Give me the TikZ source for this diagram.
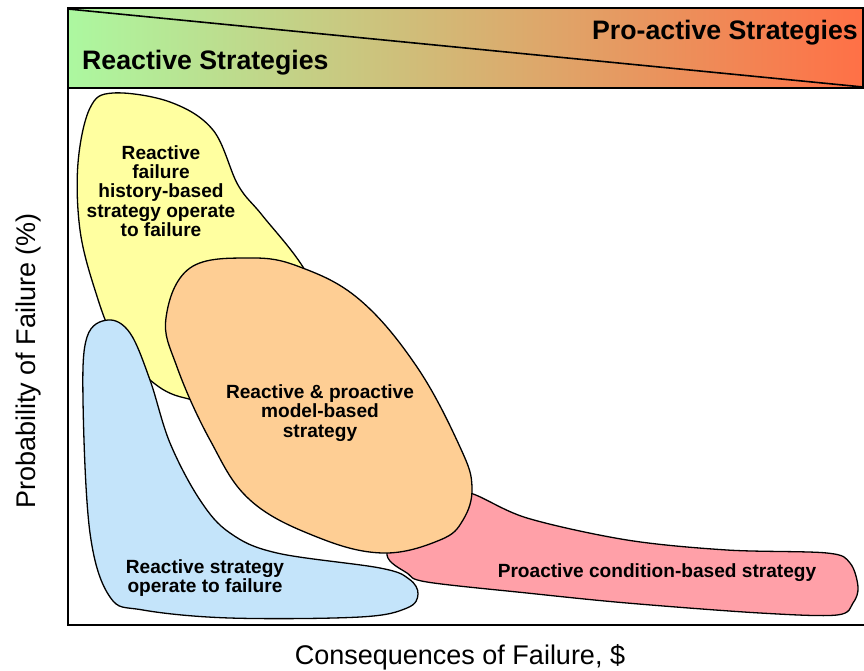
\documentclass[tikz,border=0pt]{standalone}
\usepackage{fontspec}
\setmainfont{Liberation Sans}
\begin{document}
\begin{tikzpicture}[x=1pt,y=-1pt,
  blob/.style={draw=black,line width=1.3pt,line join=round},
  blobtext/.style={font=\fontsize{19.1}{19.2}\selectfont\bfseries,align=center,inner sep=0pt},
  bannertext/.style={font=\fontsize{26.7}{28}\selectfont\bfseries,inner sep=0pt},
  axistext/.style={font=\fontsize{27}{28}\selectfont,inner sep=0pt}]
\definecolor{bangreen}{RGB}{172,248,160}
\definecolor{bantan}{RGB}{214,186,122}
\definecolor{banorange}{RGB}{255,112,70}
\definecolor{yellowfill}{RGB}{255,255,160}
\definecolor{bluefill}{RGB}{196,228,250}
\definecolor{orangefill}{RGB}{254,206,148}
\definecolor{pinkfill}{RGB}{255,160,168}
\useasboundingbox (0,0) rectangle (864,670);

% banner with the reactive / pro-active divide
\shade[left color=bangreen,middle color=bantan,right color=banorange,shading=axis]
  (68,8) rectangle (863,88);
\draw[line width=1.4pt] (68,8) rectangle (863,88);
\draw[line width=1.6pt] (68,9) -- (863,87);
\node[bannertext,anchor=base west] (reactive) at (82,69) {Reactive Strategies};
\node[bannertext,anchor=base east] (proactive) at (858,39) {Pro-active Strategies};

% strategy regions
\filldraw[blob,fill=yellowfill] plot[smooth cycle,tension=0.6] coordinates {
  (113,93) (170,102) (213,130) (238,185) (262,215) (303,267) (335,330)
  (240,400) (185,398) (150,380) (115,340) (95,290) (80,230) (78,163) (90,108)};
\filldraw[blob,fill=bluefill] plot[smooth cycle,tension=0.6] coordinates {
  (108,320) (130,333) (150,380) (170,443) (200,500) (230,533) (277,553)
  (380,568) (409,579) (418,594) (407,608) (360,617) (230,618) (143,610)
  (110,597) (90,533) (83,400) (87,337)};
\filldraw[blob,fill=pinkfill] plot[smooth cycle,tension=0.55] coordinates {
  (470,493) (527,518) (627,540) (727,550) (827,553) (850,563) (858,587)
  (853,603) (837,615) (760,613) (627,603) (527,593) (427,582) (407,573)
  (387,555) (400,520) (440,495)};
\filldraw[blob,fill=orangefill] plot[smooth cycle,tension=0.65] coordinates {
  (190,268) (250,258) (300,267) (360,300) (417,367) (460,447) (472,487)
  (463,520) (440,540) (383,553) (317,537) (250,500) (210,440) (177,367)
  (166,318)};

\node[blobtext] (history) at (161,191)
  {Reactive\\failure\\history-based\\strategy operate\\to failure};
\node[blobtext] (model) at (320,413)
  {Reactive \& proactive\\model-based\\strategy};
\node[blobtext] (operate) at (205,578)
  {Reactive strategy\\operate to failure};
\node[blobtext] (condition) at (657,573)
  {Proactive condition-based strategy};

% axes frame
\draw[line width=1.4pt] (68,88) -- (68,625) -- (864,625);
\node[axistext,anchor=base] (xlabel) at (460,664) {Consequences of Failure, \$};
\node[axistext,anchor=base,rotate=90] (ylabel) at (35,361) {Probability of Failure (\%)};
\end{tikzpicture}
\end{document}
